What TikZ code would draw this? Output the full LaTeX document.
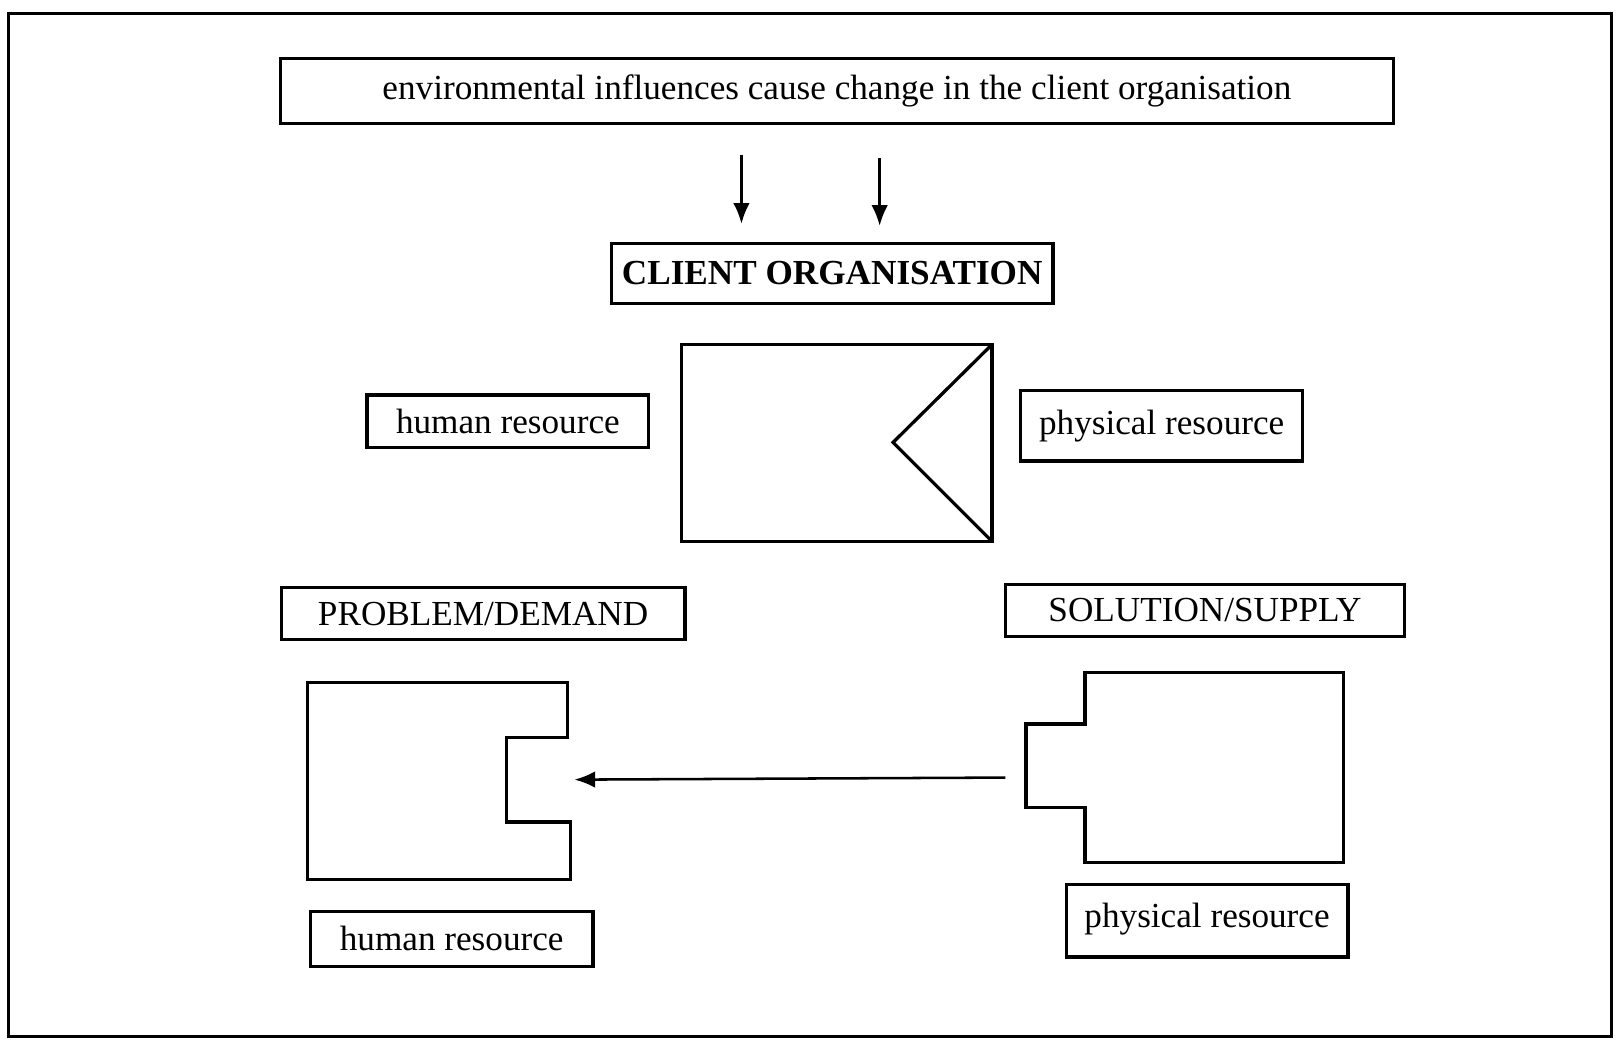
\documentclass[tikz,border=0pt]{standalone}
\usepackage{fontspec}
\setmainfont{Liberation Serif}
\usetikzlibrary{arrows.meta}
\begin{document}
\begin{tikzpicture}[x=0.01cm,y=-0.01cm,
  outline/.style={line width=0.9pt,line join=miter},
  box/.style={draw,outline,inner sep=0pt,outer sep=0pt,
    font=\fontsize{9.7}{11}\selectfont},
  flow/.style={line width=0.7pt,-{Latex[length=2mm,width=1.6mm]}}]
\useasboundingbox (0,0) rectangle (1568,1011);
% outer frame
\draw[outline] (8,13) rectangle (1563,1005);

% heading and title boxes
\node[box,minimum width=10.79cm,minimum height=0.63cm] (env) at (811.5,88.5)
  {\raisebox{0.9pt}{environmental influences cause change in the client organisation}};
\node[box,minimum width=4.28cm,minimum height=0.58cm,
  font=\fontsize{9.7}{11}\selectfont\bfseries] (client) at (807,265)
  {CLIENT ORGANISATION};

% arrows from the environment down to the organisation
\coordinate (e1) at (719,150); \coordinate (c1) at (719,217);
\coordinate (e2) at (853,153); \coordinate (c2) at (853,219);
\draw[flow] (e1) -- (c1);
\draw[flow] (e2) -- (c2);

% organisation block with its notch
\draw[outline] (661,334) rectangle (962,525);
\draw[outline] (962,334) -- (866,429) -- (962,525);

\node[box,minimum width=2.73cm,minimum height=0.51cm] (hrtop) at (492.5,408.5)
  {human resource};
\node[box,minimum width=2.73cm,minimum height=0.68cm] (prtop) at (1126.5,413)
  {\raisebox{2pt}{physical resource}};

\node[box,minimum width=3.91cm,minimum height=0.50cm] (demand) at (468.5,595)
  {PROBLEM/DEMAND};
\node[box,minimum width=3.87cm,minimum height=0.50cm] (supply) at (1168.5,592)
  {SOLUTION/SUPPLY};

% demand piece with a slot
\draw[outline] (298,662) -- (550,662) -- (550,715) -- (491,715) -- (491,797)
  -- (553,797) -- (553,853) -- (298,853) -- cycle;
% supply piece with a tab
\draw[outline] (1052,652) -- (1303,652) -- (1303,836) -- (1052,836)
  -- (1052,783) -- (995,783) -- (995,702) -- (1052,702) -- cycle;

\coordinate (tab) at (975,754);
\coordinate (slot) at (557,756);
\draw[flow] (tab) -- (slot);

\node[box,minimum width=2.74cm,minimum height=0.53cm] (hrbot) at (438,910.5)
  {human resource};
\node[box,minimum width=2.73cm,minimum height=0.70cm] (prbot) at (1170.5,893)
  {\raisebox{3pt}{physical resource}};
\end{tikzpicture}
\end{document}
